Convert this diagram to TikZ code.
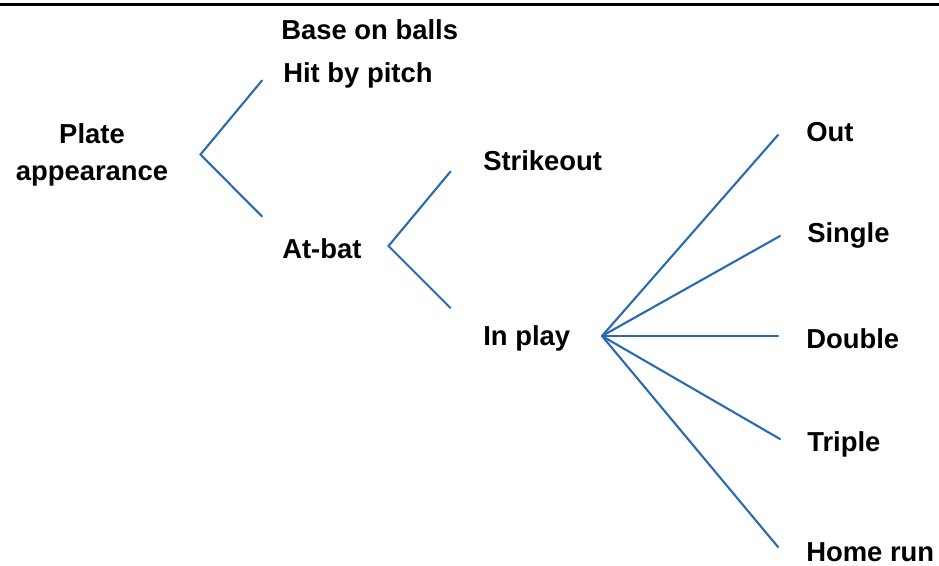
\documentclass[tikz,border=0pt]{standalone}
\usepackage{fontspec}
\setmainfont{Liberation Sans}
\definecolor{branch}{HTML}{2A6AB0}
\begin{document}
\begin{tikzpicture}[x=0.025cm, y=-0.025cm,
  every node/.style={font=\bfseries\fontsize{19.5}{26}\selectfont, inner sep=0pt},
  lbl/.style={anchor=west},
  br/.style={draw=branch, line width=1.5pt, line cap=round}]
  \useasboundingbox (0,0) rectangle (939,565);
  \coordinate (tl) at (0,4.5); \coordinate (tr) at (939,4.5);
  \draw[line width=2.1pt] (tl) -- (tr);
  % labels
  \node[align=center] (pa) at (92,155) {Plate\\appearance};
  \node[lbl] (bb) at (281,30) {Base on balls};
  \node[lbl] (hp) at (283,75) {Hit by pitch};
  \node[lbl] (ab) at (282,249) {At-bat};
  \node[lbl] (so) at (483,161) {Strikeout};
  \node[lbl] (ip) at (483,338) {In play};
  \node[lbl] (out) at (806,132) {Out};
  \node[lbl] (sg) at (807,235) {Single};
  \node[lbl] (db) at (806,339) {Double};
  \node[lbl] (tp) at (807,444) {Triple};
  \node[lbl] (hr) at (806,552) {Home run};
  % fork points
  \coordinate (pa-v) at (200.5,154.5);
  \coordinate (pa-u) at (262,80.5); \coordinate (pa-d) at (262,216.5);
  \coordinate (ab-v) at (388.5,246);
  \coordinate (ab-u) at (450.5,171.5); \coordinate (ab-d) at (450.5,308);
  \coordinate (ip-v) at (602,336);
  \coordinate (ip-1) at (778,135); \coordinate (ip-2) at (780,236);
  \coordinate (ip-3) at (778,336); \coordinate (ip-4) at (780,439);
  \coordinate (ip-5) at (778,547);
  \draw[br] (pa-u) -- (pa-v) -- (pa-d);
  \draw[br] (ab-u) -- (ab-v) -- (ab-d);
  \foreach \e in {1,...,5} \draw[br] (ip-v) -- (ip-\e);
\end{tikzpicture}
\end{document}
